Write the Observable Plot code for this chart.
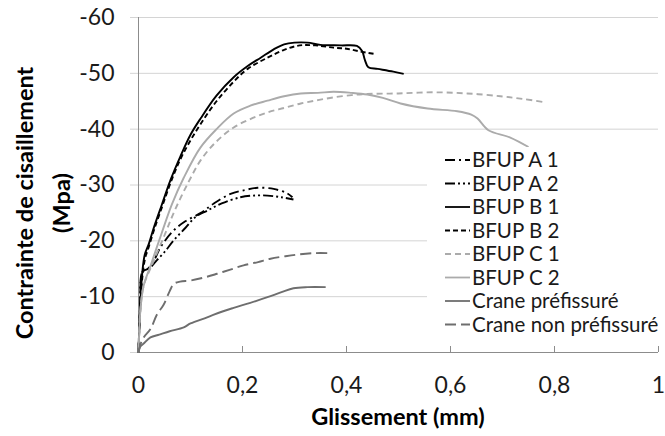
<!DOCTYPE html>
<html>
<head>
<meta charset="utf-8">
<script src="https://cdn.jsdelivr.net/npm/d3@7"></script>
<script src="https://cdn.jsdelivr.net/npm/@observablehq/plot@0.6"></script>
<style>
  html, body { margin: 0; padding: 0; background: #fff; }
  #chart { width: 665px; height: 436px; }
</style>
</head>
<body>
<div id="chart"></div>
<script>
// ---- data (slip in mm, shear stress in MPa) ----
const seriesNames = ["BFUP A 1", "BFUP A 2", "BFUP B 1", "BFUP B 2", "BFUP C 1", "BFUP C 2", "Crane préfissuré", "Crane non préfissuré"];

const bfupA1 = [[0,0],[0.003,-8],[0.008,-14.5],[0.018,-15],[0.03,-16.5],[0.042,-18.8],[0.067,-21.8],[0.09,-23.5],[0.12,-25],[0.145,-26.7],[0.177,-28.4],[0.205,-29.1],[0.229,-29.5],[0.26,-29.3],[0.286,-28.5],[0.296,-27.8]];
const bfupA2 = [[0,0],[0.003,-8],[0.008,-14.5],[0.02,-15],[0.035,-16.5],[0.05,-18],[0.067,-20],[0.09,-22.3],[0.11,-24.3],[0.132,-25.4],[0.16,-26.7],[0.196,-27.8],[0.22,-28.1],[0.248,-28.1],[0.275,-27.8],[0.298,-27.4]];
const bfupB1 = [[0,0],[0.003,-8],[0.007,-14],[0.012,-17.5],[0.02,-19.5],[0.03,-22.5],[0.045,-26.5],[0.062,-31],[0.08,-35],[0.1,-39],[0.12,-42],[0.15,-46],[0.183,-49.3],[0.21,-51.3],[0.235,-52.8],[0.26,-54.3],[0.28,-55.2],[0.3,-55.5],[0.325,-55.5],[0.35,-55.1],[0.39,-55],[0.42,-54.9],[0.43,-54],[0.435,-52.5],[0.442,-51.1],[0.46,-50.8],[0.49,-50.3],[0.51,-49.9]];
const bfupB2 = [[0,0],[0.004,-9],[0.008,-14],[0.013,-17],[0.02,-19],[0.03,-22],[0.045,-26],[0.062,-30.5],[0.08,-34.5],[0.1,-38],[0.12,-41],[0.15,-45],[0.183,-48.5],[0.21,-50.8],[0.248,-52.8],[0.28,-54.2],[0.31,-55],[0.34,-55],[0.375,-54.6],[0.4,-54.4],[0.427,-53.9],[0.452,-53.5]];
const bfupC1 = [[0,0],[0.004,-8],[0.01,-12],[0.025,-15.5],[0.05,-21],[0.07,-25.5],[0.096,-30.5],[0.12,-34.5],[0.15,-37.8],[0.183,-40.3],[0.215,-41.8],[0.248,-43],[0.28,-43.8],[0.312,-44.6],[0.345,-45.2],[0.375,-45.7],[0.41,-46.1],[0.44,-46.3],[0.5,-46.4],[0.567,-46.6],[0.632,-46.4],[0.696,-45.9],[0.74,-45.4],[0.783,-44.8]];
const bfupC2 = [[0,0],[0.004,-8],[0.01,-12],[0.023,-15.5],[0.045,-21.5],[0.064,-26.5],[0.087,-31.3],[0.119,-36.7],[0.15,-40],[0.183,-42.8],[0.215,-44.2],[0.248,-45.1],[0.28,-45.9],[0.312,-46.4],[0.345,-46.5],[0.375,-46.7],[0.41,-46.5],[0.44,-46.2],[0.47,-45.6],[0.504,-44.6],[0.556,-43.7],[0.613,-43.2],[0.64,-42.6],[0.652,-41.9],[0.673,-39.8],[0.715,-38.5],[0.75,-36.8]];
const cranePre = [[0,0],[0.003,-1],[0.01,-1.6],[0.023,-2.7],[0.04,-3.2],[0.06,-3.8],[0.087,-4.5],[0.1,-5.2],[0.132,-6.3],[0.16,-7.3],[0.183,-8],[0.215,-8.9],[0.248,-9.9],[0.275,-10.8],[0.298,-11.5],[0.325,-11.7],[0.36,-11.7]];
const craneNon = [[0,0],[0.004,-1.5],[0.01,-2.7],[0.023,-4.2],[0.036,-6.9],[0.048,-8.5],[0.06,-11],[0.068,-12.3],[0.08,-12.7],[0.1,-12.9],[0.125,-13.4],[0.151,-14.1],[0.175,-14.8],[0.202,-15.6],[0.23,-16.2],[0.254,-16.8],[0.28,-17.2],[0.311,-17.6],[0.34,-17.8],[0.363,-17.8]];

const xTicks = [0, 0.2, 0.4, 0.6, 0.8, 1];
const yTicks = [0, -10, -20, -30, -40, -50, -60];
const xTitle = "Glissement (mm)";
const yTitleLines = ["Contrainte de cisaillement", "(Mpa)"];

// ---- styles ----
const seriesData = [bfupA1, bfupA2, bfupB1, bfupB2, bfupC1, bfupC2, cranePre, craneNon];
const styles = [
  {stroke: "#000", dash: "10,4,2,4"},
  {stroke: "#000", dash: "10,3,2,3,2,3"},
  {stroke: "#000", dash: null},
  {stroke: "#000", dash: "5,3"},
  {stroke: "#ababab", dash: "6,4"},
  {stroke: "#ababab", dash: null},
  {stroke: "#6e6e6e", dash: null},
  {stroke: "#6e6e6e", dash: "11,5"}
];

const FONT = "Lato, 'Open Sans', sans-serif";
const commaFmt = d => String(d).replace(".", ",");

const lineMarks = seriesData.map((data, i) =>
  Plot.line(data, {
    x: d => d[0], y: d => d[1],
    stroke: styles[i].stroke,
    strokeWidth: 1.9,
    strokeDasharray: styles[i].dash,
    strokeLinecap: "butt",
    strokeLinejoin: "round",
    curve: "catmull-rom"
  })
);

const chart = Plot.plot({
  width: 665,
  height: 436,
  marginLeft: 138,
  marginRight: 7,
  marginTop: 17,
  marginBottom: 84,
  style: {fontFamily: FONT, background: "#fff", color: "#1a1a1a", overflow: "visible"},
  x: {domain: [0, 1], label: null},
  y: {domain: [0, -60], label: null},
  marks: [
    Plot.gridY(yTicks, {stroke: "#d4d4d4", strokeOpacity: 1, strokeWidth: 1}),
    Plot.axisY(yTicks, {tickSize: 8, tickPadding: 16, tickFormat: d => String(d), fontSize: 23, stroke: "#d4d4d4", label: null}),
    Plot.axisX(xTicks, {tickSize: 0, tickPadding: 24, tickFormat: commaFmt, fontSize: 23, label: null}),
    Plot.ruleX(xTicks.slice(1), {x: d => d, y1: 0, y2: 0, insetTop: -6, stroke: "#8c8c8c"}),
    Plot.ruleY([0], {stroke: "#8c8c8c"}),
    Plot.ruleX([0], {stroke: "#8c8c8c"}),
    ...lineMarks
  ]
});

document.getElementById("chart").appendChild(chart);

// ---- titles & legend ----
const svg = d3.select(chart);

svg.append("text")
  .attr("x", 398).attr("y", 425)
  .attr("text-anchor", "middle")
  .attr("font-family", FONT).attr("font-weight", "bold").attr("font-size", 23.5)
  .attr("fill", "#000")
  .text(xTitle);

const yt = svg.append("g").attr("transform", "translate(0,203) rotate(-90)");
yTitleLines.forEach((t, i) => {
  yt.append("text")
    .attr("x", 0).attr("y", 33 + i * 37)
    .attr("text-anchor", "middle")
    .attr("font-family", FONT).attr("font-weight", "bold").attr("font-size", 23.5)
    .attr("fill", "#000")
    .text(t);
});

const lg = svg.append("g").attr("text-anchor", "start");
lg.append("rect").attr("x", 427).attr("y", 147).attr("width", 238).attr("height", 191).attr("fill", "#fff").attr("stroke", "none");
seriesNames.forEach((name, i) => {
  const cy = 160 + i * 23.5;
  lg.append("line")
    .attr("x1", 445).attr("x2", 470).attr("y1", cy).attr("y2", cy)
    .attr("stroke", styles[i].stroke).attr("stroke-width", 1.8)
    .attr("stroke-dasharray", styles[i].dash ? styles[i].dash : null);
  lg.append("text")
    .attr("x", 472).attr("y", cy).attr("dy", "0.36em")
    .attr("text-anchor", "start")
    .attr("font-family", FONT).attr("font-size", 20.5)
    .attr("fill", "#1a1a1a")
    .text(name);
});
</script>
</body>
</html>
